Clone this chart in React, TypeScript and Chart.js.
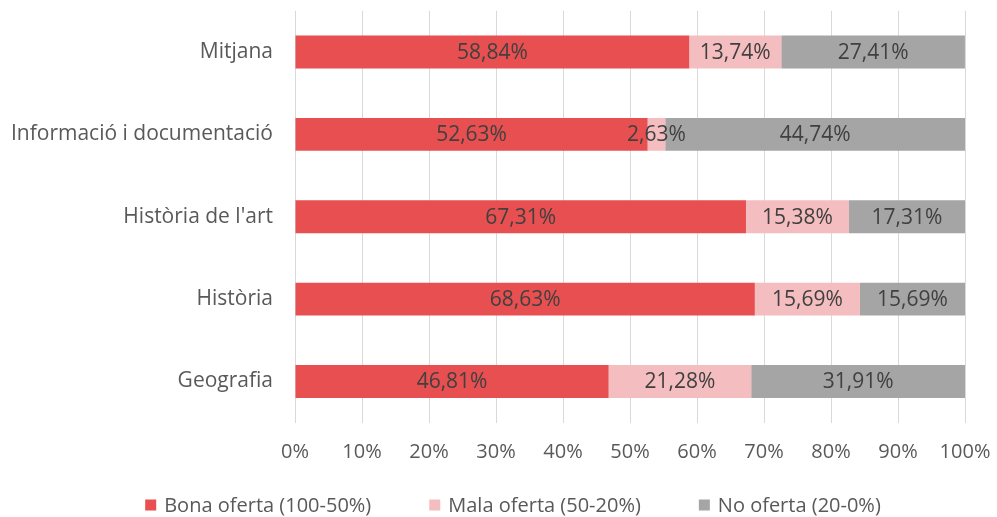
import React, { useEffect, useRef } from "react";
import { Chart, registerables } from "chart.js";

Chart.register(...registerables);

const categories = ["Mitjana", "Informació i documentació", "Història de l'art", "Història", "Geografia"];
const seriesNames = ["Bona oferta (100-50%)", "Mala oferta (50-20%)", "No oferta (20-0%)"];
const bonaOferta = [58.84, 52.63, 67.31, 68.63, 46.81];
const malaOferta = [13.74, 2.63, 15.38, 15.69, 21.28];
const noOferta = [27.41, 44.74, 17.31, 15.69, 31.91];
const seriesColors = ["#E84F50", "#F4BDBF", "#A5A5A5"];
const tickValues = [0, 10, 20, 30, 40, 50, 60, 70, 80, 90, 100];

const FONT = "'Open Sans', 'DejaVu Sans', sans-serif";
const TEXT = "#595959";

const fmt = (v: number) => v.toFixed(2).replace(".", ",") + "%";

const labelPlugin = {
  id: "barLabels",
  afterDatasetsDraw(chart: any) {
    const ctx = chart.ctx;
    ctx.save();
    ctx.font = `21px ${FONT}`;
    ctx.fillStyle = "#404040";
    ctx.textAlign = "center";
    ctx.textBaseline = "middle";
    chart.data.datasets.forEach((ds: any, i: number) => {
      const meta = chart.getDatasetMeta(i);
      meta.data.forEach((el: any, j: number) => {
        const p = el.getCenterPoint();
        ctx.fillText(fmt(ds.data[j]), p.x, p.y + 1);
      });
    });
    ctx.restore();
  },
};

const legendPlugin = {
  id: "customLegend",
  afterDraw(chart: any) {
    const ctx = chart.ctx;
    ctx.save();
    ctx.font = `20px ${FONT}`;
    ctx.textBaseline = "middle";
    ctx.textAlign = "left";
    const box = 11;
    const gapBox = 8;
    const gapItem = 58;
    const items = chart.data.datasets.map((ds: any) => ({
      label: ds.label,
      color: ds.backgroundColor,
      w: box + gapBox + ctx.measureText(ds.label).width,
    }));
    const total = items.reduce((a: number, it: any) => a + it.w, 0) + gapItem * (items.length - 1);
    let x = 513 - total / 2;
    const y = 505;
    items.forEach((it: any) => {
      ctx.fillStyle = it.color;
      ctx.fillRect(x, y - box / 2, box, box);
      ctx.fillStyle = TEXT;
      ctx.fillText(it.label, x + box + gapBox, y + 1);
      x += it.w + gapItem;
    });
    ctx.restore();
  },
};

export default function App() {
  const ref = useRef<HTMLCanvasElement>(null);
  useEffect(() => {
    document.body.style.margin = "0";
    const chart = new Chart(ref.current!, {
      type: "bar",
      data: {
        labels: categories,
        datasets: [bonaOferta, malaOferta, noOferta].map((d, i) => ({
          label: seriesNames[i],
          data: d,
          backgroundColor: seriesColors[i],
          borderWidth: 0,
          categoryPercentage: 1,
          barPercentage: 0.4,
        })),
      },
      options: {
        indexAxis: "y",
        animation: false,
        responsive: false,
        maintainAspectRatio: false,
        layout: { padding: { top: 10.8, right: 32, bottom: 0, left: 0 } },
        plugins: { legend: { display: false }, tooltip: { enabled: false } },
        scales: {
          x: {
            stacked: true,
            min: 0,
            max: 100,
            afterBuildTicks: (s: any) => {
              s.ticks = tickValues.map((v) => ({ value: v }));
            },
            afterFit: (s: any) => {
              s.height = 94.3;
              s.paddingLeft = 0;
              s.paddingRight = 0;
              s.paddingTop = 0;
              s.paddingBottom = 0;
            },
            grid: { color: "#D9D9D9", drawTicks: false },
            border: { display: false },
            ticks: {
              padding: 18,
              color: TEXT,
              font: { family: FONT, size: 20 },
              callback: (v: any) => v + "%",
            },
          },
          y: {
            stacked: true,
            afterFit: (s: any) => {
              s.width = 295;
              s.paddingLeft = 0;
              s.paddingRight = 0;
              s.paddingTop = 0;
              s.paddingBottom = 0;
            },
            grid: { display: false, drawTicks: false },
            border: { display: false },
            ticks: {
              padding: 22,
              color: TEXT,
              font: { family: FONT, size: 21 },
            },
          },
        },
      },
      plugins: [labelPlugin, legendPlugin],
    } as any);
    return () => chart.destroy();
  }, []);
  return (
    <div style={{ width: 997, height: 517, background: "#fff" }}>
      <canvas ref={ref} width={997} height={517} style={{ display: "block" }} />
    </div>
  );
}
